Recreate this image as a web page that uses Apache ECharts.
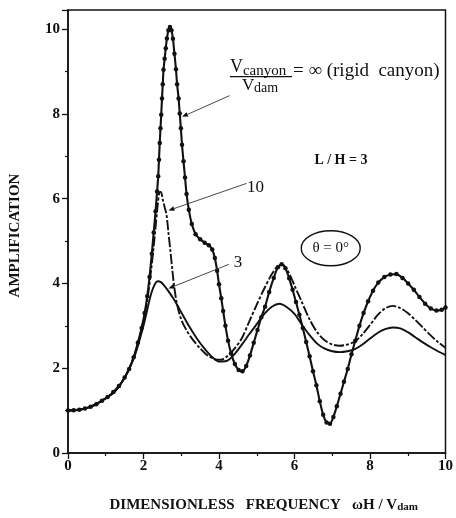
<!DOCTYPE html>
<html>
<head>
<meta charset="utf-8">
<script src="https://cdn.jsdelivr.net/npm/echarts@6/dist/echarts.min.js"></script>
<style>
  html, body { margin: 0; padding: 0; background: #fff; }
  #main { width: 456px; height: 518px; }
</style>
</head>
<body>
<div id="main"></div>
<script>
// Amplification vs dimensionless frequency, L/H = 3, theta = 0 deg
// Rigid canyon (Vcanyon / Vdam = infinity), marked with dots
const rigidCanyon = [
  [0,1.00],[0.15,1.01],[0.3,1.02],[0.45,1.05],[0.6,1.09],[0.75,1.15],[0.9,1.23],[1.05,1.32],
  [1.2,1.44],[1.35,1.58],[1.5,1.78],[1.62,1.98],[1.74,2.26],[1.85,2.6],[1.95,2.95],[2.03,3.3],
  [2.1,3.7],[2.16,4.15],[2.22,4.7],[2.27,5.2],[2.32,5.7],[2.36,6.17],[2.39,6.53],[2.41,6.92],
  [2.43,7.31],[2.45,7.66],[2.47,7.98],[2.49,8.36],[2.51,8.70],[2.53,9.04],[2.56,9.30],[2.59,9.55],
  [2.62,9.78],[2.66,9.97],[2.70,10.05],[2.74,9.97],[2.78,9.77],[2.82,9.42],[2.86,9.05],[2.89,8.70],
  [2.93,8.36],[2.96,8.01],[2.99,7.66],[3.02,7.27],[3.06,6.88],[3.10,6.50],[3.14,6.11],[3.20,5.74],
  [3.28,5.40],[3.38,5.16],[3.50,5.04],[3.62,4.96],[3.73,4.90],[3.82,4.80],[3.89,4.60],[3.95,4.30],
  [4.0,3.98],[4.06,3.65],[4.11,3.35],[4.17,3.00],[4.24,2.65],[4.32,2.35],[4.42,2.10],[4.52,1.96],
  [4.62,1.93],[4.72,2.05],[4.82,2.30],[4.92,2.60],[5.02,2.90],[5.12,3.20],[5.22,3.45],[5.33,3.80],
  [5.45,4.13],[5.56,4.38],[5.66,4.45],[5.76,4.36],[5.86,4.12],[5.95,3.85],[6.04,3.56],[6.13,3.26],
  [6.22,2.95],[6.31,2.62],[6.40,2.28],[6.49,1.93],[6.58,1.60],[6.67,1.22],[6.76,0.90],[6.85,0.72],
  [6.94,0.69],[7.03,0.85],[7.12,1.10],[7.22,1.40],[7.31,1.68],[7.41,1.98],[7.51,2.33],[7.61,2.65],
  [7.72,3.00],[7.83,3.30],[7.95,3.58],[8.08,3.83],[8.22,4.02],[8.38,4.15],[8.54,4.21],[8.70,4.22],
  [8.86,4.13],[9.01,4.00],[9.16,3.85],[9.31,3.68],[9.46,3.52],[9.61,3.41],[9.76,3.36],[9.9,3.38],[10,3.43]
];

// Velocity ratio 10 (dashed)
const ratioTen = [
  [0,1.00],[0.5,1.06],[1.0,1.29],[1.25,1.46],[1.5,1.78],[1.75,2.28],[1.9,2.75],[2.0,3.12],
  [2.1,3.6],[2.2,4.3],[2.3,5.15],[2.37,5.8],[2.42,6.15],[2.46,6.16],[2.51,5.98],[2.56,5.80],
  [2.61,5.62],[2.66,5.2],[2.71,4.79],[2.76,4.35],[2.81,3.95],[2.89,3.50],[3.0,3.15],[3.15,2.88],
  [3.3,2.68],[3.5,2.47],[3.7,2.30],[3.9,2.21],[4.05,2.20],[4.2,2.27],[4.4,2.45],[4.6,2.70],
  [4.8,3.10],[5.0,3.50],[5.2,3.88],[5.4,4.22],[5.55,4.40],[5.68,4.44],[5.82,4.30],[6.0,3.95],
  [6.2,3.55],[6.4,3.15],[6.6,2.85],[6.8,2.66],[7.0,2.56],[7.2,2.53],[7.4,2.56],[7.6,2.63],
  [7.8,2.80],[8.0,3.02],[8.2,3.25],[8.4,3.41],[8.6,3.47],[8.8,3.42],[9.0,3.30],[9.2,3.14],
  [9.4,2.96],[9.6,2.78],[9.8,2.62],[10,2.48]
];

// Velocity ratio 3 (solid)
const ratioThree = [
  [0,1.00],[0.5,1.06],[1.0,1.29],[1.25,1.46],[1.5,1.77],[1.75,2.25],[1.9,2.68],[2.0,3.0],
  [2.1,3.38],[2.2,3.75],[2.3,3.98],[2.38,4.05],[2.46,4.03],[2.55,3.95],[2.65,3.83],[2.8,3.63],
  [3.0,3.32],[3.2,3.00],[3.4,2.72],[3.6,2.48],[3.8,2.28],[4.0,2.16],[4.2,2.17],[4.4,2.32],
  [4.6,2.55],[4.8,2.80],[5.0,3.04],[5.2,3.28],[5.4,3.45],[5.6,3.52],[5.8,3.44],[6.0,3.28],
  [6.2,3.02],[6.4,2.78],[6.6,2.58],[6.8,2.46],[7.0,2.40],[7.2,2.38],[7.4,2.40],[7.6,2.45],
  [7.8,2.56],[8.0,2.70],[8.2,2.83],[8.4,2.92],[8.6,2.96],[8.8,2.94],[9.0,2.85],[9.2,2.73],
  [9.4,2.61],[9.6,2.50],[9.8,2.40],[10,2.31]
];

const xTickStep = 2;
const yTickStep = 2;
const labelTen = '10';
const labelThree = '3';
const labelRatio = 'L / H = 3';
const labelAngle = 'θ = 0°';

const SERIF = '"Liberation Serif", "DejaVu Serif", serif';
const INK = '#111';

const chart = echarts.init(document.getElementById('main'), null, { renderer: 'canvas' });

const axisCommon = {
  axisLine: { show: true, lineStyle: { color: INK, width: 1.5 } },
  axisTick: { show: true, inside: false, length: 6, lineStyle: { color: INK, width: 1.3 } },
  minorTick: { show: true, splitNumber: 2, length: 3, lineStyle: { color: INK, width: 1.2 } },
  splitLine: { show: false },
  axisLabel: { color: INK, fontFamily: SERIF, fontSize: 15, fontWeight: 'bold' }
};

chart.setOption({
  animation: false,
  backgroundColor: '#fff',
  grid: { left: 67, right: 9, top: 10, bottom: 59, show: true, borderColor: INK, borderWidth: 1.5 },
  xAxis: Object.assign({}, axisCommon, {
    type: 'value', min: 0, max: 10, interval: xTickStep,
    axisLabel: Object.assign({}, axisCommon.axisLabel, { margin: 6 }),
    name: '{b|DIMENSIONLESS   FREQUENCY   ωH / V}{s|dam}',
    nameLocation: 'middle', nameGap: 44,
    nameTextStyle: {
      padding: [0, 0, 0, 14],
      rich: {
        b: { fontFamily: SERIF, fontSize: 15, fontWeight: 'bold', color: INK },
        s: { fontFamily: SERIF, fontSize: 11, fontWeight: 'bold', color: INK, padding: [5, 0, 0, 0] }
      }
    }
  }),
  yAxis: Object.assign({}, axisCommon, {
    type: 'value', min: 0, max: 10.45, interval: yTickStep,
    axisLabel: Object.assign({}, axisCommon.axisLabel, { margin: 8, showMaxLabel: false }),
    name: 'AMPLIFICATION', nameLocation: 'middle', nameGap: 45,
    nameTextStyle: { fontFamily: SERIF, fontSize: 15, fontWeight: 'bold', color: INK, padding: [0, 8, 0, 0] }
  }),
  series: [
    {
      name: '3', type: 'line', data: ratioThree, smooth: 0.3, symbol: 'none', z: 2,
      lineStyle: { color: INK, width: 1.9 }
    },
    {
      name: '10', type: 'line', data: ratioTen, smooth: 0.3, symbol: 'none', z: 3,
      lineStyle: { color: INK, width: 1.9, type: [10, 2, 3, 2] }
    },
    {
      name: 'rigid', type: 'line', data: rigidCanyon, smooth: 0.25, z: 4,
      symbol: 'circle', symbolSize: 4.5, showAllSymbol: true,
      itemStyle: { color: INK },
      lineStyle: { color: INK, width: 2.1 }
    }
  ]
});

// ---- annotations (anchored in data units) ----
const toPx = p => chart.convertToPixel({ gridIndex: 0 }, p);

function arrow(from, to) {
  const a = toPx(from), b = toPx(to);
  const dx = b[0] - a[0], dy = b[1] - a[1];
  const len = Math.hypot(dx, dy), ux = dx / len, uy = dy / len;
  const hl = 6, hw = 2.4;
  const base = [b[0] - ux * hl, b[1] - uy * hl];
  return [
    { type: 'line', z: 10, shape: { x1: a[0], y1: a[1], x2: base[0], y2: base[1] },
      style: { stroke: '#333', lineWidth: 0.9 } },
    { type: 'polygon', z: 10,
      shape: { points: [b, [base[0] - uy * hw, base[1] + ux * hw], [base[0] + uy * hw, base[1] - ux * hw]] },
      style: { fill: INK } }
  ];
}

function text(str, p, size, opts) {
  return {
    type: 'text', z: 10, x: p[0], y: p[1],
    style: Object.assign({
      text: str, fill: INK, font: size + 'px ' + SERIF,
      textAlign: 'left', textVerticalAlign: 'middle'
    }, opts || {})
  };
}

const g = [];
// rigid canyon fraction label
const frac = toPx([4.29, 8.88]);
g.push(text('V', [frac[0], frac[1] - 9], 18));
g.push(text('canyon', [frac[0] + 13, frac[1] - 5], 15));
g.push({ type: 'line', z: 10, shape: { x1: frac[0], y1: frac[1], x2: frac[0] + 62, y2: frac[1] },
  style: { stroke: INK, lineWidth: 1.2 } });
g.push(text('V', [frac[0] + 12, frac[1] + 9], 17));
g.push(text('dam', [frac[0] + 24, frac[1] + 12], 14));
g.push(text('= ∞ (rigid  canyon)', [frac[0] + 63, frac[1] - 6], 19));
g.push(...arrow([4.28, 8.43], [3.02, 7.93]));

// L/H
g.push(text(labelRatio, toPx([7.23, 6.91]), 14, { textAlign: 'center', font: 'bold 14px ' + SERIF }));

// ratio 10
g.push(text(labelTen, toPx([4.97, 6.26]), 17, { textAlign: 'center' }));
g.push(...arrow([4.73, 6.36], [2.66, 5.72]));

// ratio 3
g.push(text(labelThree, toPx([4.50, 4.50]), 17, { textAlign: 'center' }));
g.push(...arrow([4.26, 4.45], [2.66, 3.88]));

// theta in ellipse
const th = toPx([6.96, 4.83]);
g.push({ type: 'ellipse', z: 10, shape: { cx: th[0], cy: th[1], rx: 29.5, ry: 17.5 },
  style: { fill: 'none', stroke: INK, lineWidth: 1.4 } });
g.push(text(labelAngle, th, 15, { textAlign: 'center' }));

chart.setOption({ graphic: g });
</script>
</body>
</html>
